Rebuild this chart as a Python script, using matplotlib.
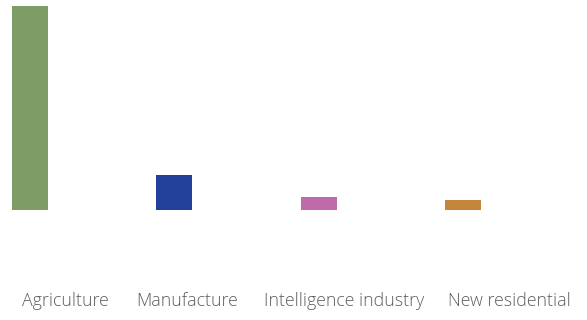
import matplotlib
matplotlib.use('Agg')
import matplotlib.pyplot as plt

# sector values and colours
sectors = ['Agriculture', 'Manufacture', 'Intelligence industry', 'New residential']
values = [204, 35, 13, 10]
colors = ['#7e9d66', '#22409a', '#c06ba9', '#c4863b']
# left edge of each label along the bottom, as a figure fraction
label_x = [22 / 587, 136 / 587, 264 / 587, 448 / 587]

fig = plt.figure(figsize=(5.87, 3.2), dpi=100)
ax = fig.add_axes([1.1 / 587, 1 - 210 / 320, 490.8 / 587, 204 / 320])

x = range(len(sectors))
ax.bar(x, values, width=0.25, color=colors)
ax.set_xlim(-0.2, 3.2)
ax.set_ylim(0, max(values))
ax.axis('off')

for name, lx in zip(sectors, label_x):
    fig.text(lx, 1 - 306.5 / 320, name, ha='left', va='baseline',
             fontsize=12.8, color='#5e5e5e', family=['Open Sans', 'DejaVu Sans'],
             fontweight='light')

fig.savefig('out.png', dpi=100)
